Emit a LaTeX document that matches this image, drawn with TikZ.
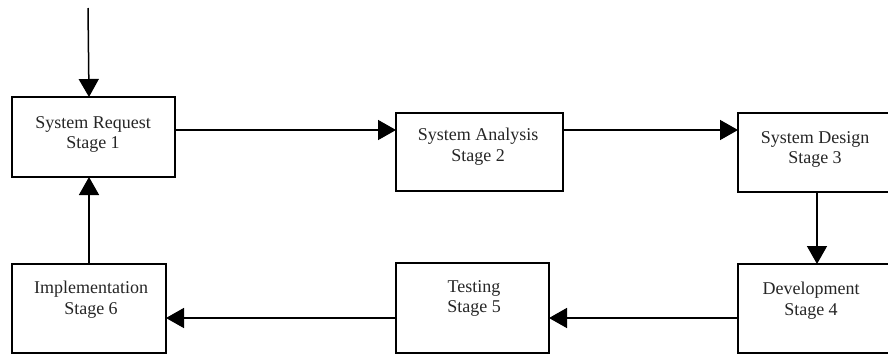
\documentclass[tikz,border=0pt]{standalone}
\usepackage{fontspec}
\setmainfont{Liberation Serif}
\usetikzlibrary{arrows.meta}
\begin{document}
\begin{tikzpicture}[x=1pt,y=-1pt,
  stagebox/.style={draw=black,line width=1.6pt},
  stagetext/.style={anchor=north,align=center,inner sep=0pt,text=black!85,
    font=\fontsize{18}{20.5}\selectfont},
  flow/.style={line width=1.5pt,-{Triangle[length=18pt,width=20pt]}}]
\useasboundingbox (0,0) rectangle (888,354);
\clip (0,0) rectangle (888,354);
\fill[white] (0,0) rectangle (888,354);
% boxes
\draw[stagebox] (12,97) rectangle (175,177);
\coordinate (b1n) at (89,97); \coordinate (b1s) at (89,177);
\coordinate (b1e) at (175,130);
\draw[stagebox] (396,113) rectangle (563,191);
\coordinate (b2w) at (396,130); \coordinate (b2e) at (563,130);
\draw[stagebox] (738,113) rectangle (900,192);
\coordinate (b3w) at (738,130); \coordinate (b3s) at (817,192);
\draw[stagebox] (738,264) rectangle (900,353);
\coordinate (b4n) at (817,264); \coordinate (b4w) at (738,318);
\draw[stagebox] (396,263) rectangle (549,353);
\coordinate (b5e) at (549,318); \coordinate (b5w) at (396,318);
\draw[stagebox] (12,264) rectangle (166,353);
\coordinate (b6e) at (166,318); \coordinate (b6n) at (89,264);
% texts
\node[stagetext] (t1) at (93,116) {System Request\\Stage 1};
\node[stagetext] (t2) at (478,128) {System Analysis\\Stage 2};
\node[stagetext] (t3) at (815,131) {System Design\\Stage 3};
\node[stagetext] (t4) at (811,282) {Development\\Stage 4};
\node[stagetext] (t5) at (474,280) {Testing\\Stage 5};
\node[stagetext] (t6) at (91,281) {Implementation\\Stage 6};
% connectors
\coordinate (start) at (88,8);
\draw[flow] (start) -- (b1n);
\draw[flow] (b1e) -- (b2w);
\draw[flow] (b2e) -- (b3w);
\draw[flow] (b3s) -- (b4n);
\draw[flow] (b4w) -- (b5e);
\draw[flow] (b5w) -- (b6e);
\draw[flow] (b6n) -- (b1s);
\end{tikzpicture}
\end{document}
